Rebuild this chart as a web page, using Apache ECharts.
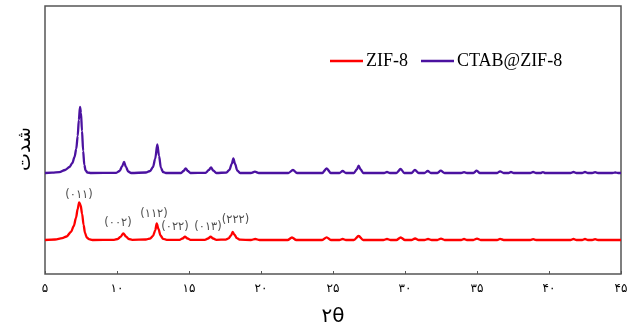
<!DOCTYPE html>
<html>
<head>
<meta charset="utf-8">
<script src="https://cdn.jsdelivr.net/npm/echarts@6/dist/echarts.min.js"></script>
<style>
html,body{margin:0;padding:0;background:#fff;}
#c{width:633px;height:327px;}
</style>
</head>
<body>
<div id="c"></div>
<script>
// ---- data (2θ in degrees, intensity in arbitrary units) ----
const tickValues = [5, 10, 15, 20, 25, 30, 35, 40, 45];
const tickLabels = ['۵', '۱۰', '۱۵', '۲۰', '۲۵', '۳۰', '۳۵', '۴۰', '۴۵'];

const seriesNames = ['ZIF-8', 'CTAB@ZIF-8'];

// ZIF-8 (red)
const zifX = [5.0, 5.7, 6.2, 6.5, 6.8, 7.0, 7.15, 7.27, 7.37, 7.47, 7.58, 7.68, 7.78, 7.9, 8.05, 8.3,
  9.8, 10.05, 10.25, 10.44, 10.62, 10.82, 11.05,
  12.0, 12.3, 12.5, 12.65, 12.76, 12.88, 13.02, 13.2, 13.45,
  14.35, 14.55, 14.72, 14.9, 15.1,
  16.1, 16.32, 16.5, 16.68, 16.9,
  17.55, 17.75, 17.92, 18.03, 18.15, 18.32, 18.55,
  19.3, 19.6, 19.9,
  21.85, 22.15, 22.45,
  24.25, 24.56, 24.85,
  25.45, 25.67, 25.9,
  26.45, 26.78, 27.1,
  28.5, 28.75, 29.0,
  29.4, 29.7, 30.0,
  30.45, 30.7, 30.95,
  31.35, 31.6, 31.85,
  32.25, 32.5, 32.75,
  33.9, 34.1, 34.3,
  34.75, 35.0, 35.25,
  36.4, 36.6, 36.85,
  38.7, 38.9, 39.1,
  41.5, 41.7, 41.9,
  42.3, 42.5, 42.7,
  43.0, 43.2, 43.4,
  45.0];
const zifY = [34, 34.5, 35.8, 37.5, 42, 48, 56, 65, 71.5, 69, 60, 49, 41, 36.5, 34.8, 34,
  34.2, 35, 37.2, 40.7, 37.5, 35, 34.2,
  34.5, 35.5, 38, 43.5, 50.5, 45, 38.5, 35.2, 34.2,
  34.2, 35.5, 37.3, 35.5, 34.2,
  34.2, 35.5, 37.3, 35.5, 34.2,
  34.4, 35.6, 38.5, 42, 39.5, 35.8, 34.3,
  34, 35, 34,
  34, 36.5, 34,
  34, 36.7, 34,
  34, 35, 34,
  34, 38, 34,
  34, 35, 34,
  34, 36.5, 34,
  34, 35.5, 34,
  34, 35, 34,
  34, 35.3, 34,
  34, 35, 34,
  34, 35.3, 34,
  34, 35.2, 34,
  34, 34.8, 34,
  34, 35, 34,
  34, 35, 34,
  34, 34.8, 34,
  34];

// CTAB@ZIF-8 (purple)
const ctabX = [5.0, 5.5, 6.0, 6.4, 6.7, 6.9, 7.05, 7.17, 7.27, 7.35, 7.43, 7.5, 7.57, 7.65, 7.73, 7.82, 7.95, 8.2,
  9.95, 10.18, 10.35, 10.49, 10.62, 10.78, 10.98,
  12.0, 12.3, 12.5, 12.65, 12.8, 12.92, 13.05, 13.2, 13.4,
  14.45, 14.62, 14.77, 14.92, 15.1,
  16.15, 16.38, 16.53, 16.68, 16.9,
  17.6, 17.8, 17.97, 18.08, 18.2, 18.35, 18.55,
  19.3, 19.58, 19.85,
  21.9, 22.22, 22.5,
  24.25, 24.56, 24.85,
  25.45, 25.67, 25.9,
  26.45, 26.65, 26.78, 26.92, 27.1,
  28.55, 28.75, 28.95,
  29.4, 29.7, 29.95,
  30.45, 30.69, 30.95,
  31.35, 31.58, 31.8,
  32.25, 32.48, 32.75,
  33.9, 34.1, 34.3,
  34.75, 34.98, 35.2,
  36.4, 36.6, 36.85,
  37.2, 37.36, 37.55,
  38.7, 38.9, 39.1,
  39.4, 39.58, 39.75,
  41.5, 41.7, 41.9,
  42.3, 42.5, 42.7,
  43.0, 43.2, 43.4,
  44.4, 44.6, 44.8,
  45.0];
const ctabY = [101, 101.3, 101.8, 104, 107, 111, 117, 125, 138, 154, 167, 161, 143, 123, 109, 103.5, 101.5, 101,
  101.2, 103, 107.5, 112, 107, 102.5, 101,
  101.5, 103, 107, 115, 129.5, 118, 106, 102, 101,
  101, 103, 105.7, 103, 101,
  101.2, 104, 106.7, 103.5, 101,
  101.5, 104, 110, 115.7, 110, 103.5, 101,
  101, 102.3, 101,
  101, 104, 101,
  101, 105.5, 101,
  101, 103, 101,
  101, 104.5, 108.3, 104.5, 101,
  101, 102, 101,
  101, 105, 101,
  101, 104, 101,
  101, 103, 101,
  101, 103.3, 101,
  101, 101.8, 101,
  101, 103.3, 101,
  101, 102.7, 101,
  101, 102, 101,
  101, 102, 101,
  101, 101.8, 101,
  101, 102, 101,
  101, 102, 101,
  101, 101.8, 101,
  101, 101.5, 101,
  101];

// Miller-index annotations for ZIF-8 (text, 2θ, intensity of label centre)
const hklText = ['(۰۱۱)', '(۰۰۲)', '(۱۱۲)', '(۰۲۲)', '(۰۱۳)', '(۲۲۲)'];
const hklX = [7.36, 10.07, 12.57, 14.03, 16.32, 18.23];
const hklY = [79, 51.3, 59.7, 47.3, 46.7, 54];

// ---- build ----
const zip = (xs, ys) => xs.map((x, i) => [x, ys[i]]);
const chart = echarts.init(document.getElementById('c'), null, {renderer: 'canvas'});
chart.setOption({
  animation: false,
  backgroundColor: '#ffffff',
  grid: {left: 45, right: 12, top: 6, bottom: 53, show: true, borderColor: '#555555', borderWidth: 1.5,
    backgroundColor: 'transparent', containLabel: false, outerBoundsMode: 'none'},
  legend: {
    data: seriesNames,
    left: 325, top: 47,
    icon: 'rect', itemWidth: 33, itemHeight: 2.5, itemGap: 13,
    textStyle: {fontFamily: 'Liberation Serif', fontSize: 18, color: '#000', padding: [0, 0, 0, -2]}
  },
  xAxis: {
    type: 'value', min: 5, max: 45, interval: 5,
    axisLine: {show: false},
    axisTick: {show: true, inside: true, length: 3, lineStyle: {color: '#555'}},
    splitLine: {show: false},
    axisLabel: {
      margin: 9, fontFamily: 'DejaVu Sans', fontSize: 12, color: '#000',
      formatter: v => tickLabels[tickValues.indexOf(v)]
    },
    name: '۲θ', nameLocation: 'middle', nameGap: 33,
    nameTextStyle: {fontFamily: 'DejaVu Sans', fontSize: 20, color: '#000'}
  },
  yAxis: {
    type: 'value', min: 0, max: 268,
    axisLine: {show: false}, axisTick: {show: false}, axisLabel: {show: false}, splitLine: {show: false},
    name: 'شدت', nameLocation: 'middle', nameGap: 10, nameRotate: 90,
    nameTextStyle: {fontFamily: 'DejaVu Sans', fontSize: 19, color: '#000', padding: [0, 18, 0, 0]}
  },
  series: [
    {
      name: seriesNames[0], type: 'line', data: zip(zifX, zifY),
      showSymbol: false, symbol: 'none', smooth: 0.3, smoothMonotone: 'x',
      lineStyle: {color: '#ff0000', width: 2.3}, itemStyle: {color: '#ff0000'}
    },
    {
      name: seriesNames[1], type: 'line', data: zip(ctabX, ctabY),
      showSymbol: false, symbol: 'none', smooth: 0.3, smoothMonotone: 'x',
      lineStyle: {color: '#4b12a0', width: 2.3}, itemStyle: {color: '#4b12a0'}
    },
    {
      name: 'hkl', type: 'scatter', data: hklX.map((x, i) => [x, hklY[i], hklText[i]]),
      symbolSize: 1, itemStyle: {color: 'rgba(0,0,0,0)'}, silent: true, z: 5,
      label: {show: true, position: 'inside', formatter: p => p.value[2],
        fontFamily: 'DejaVu Sans', fontSize: 11.5, color: '#1a1a1a'}
    }
  ]
});
</script>
</body>
</html>
